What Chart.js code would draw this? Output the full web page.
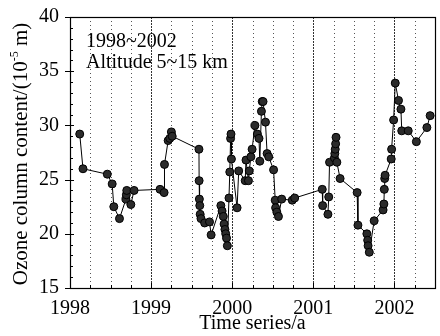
<!DOCTYPE html>
<html>
<head>
<meta charset="utf-8">
<script src="https://cdn.jsdelivr.net/npm/chart.js@4"></script>
<style>
  body { margin: 0; background: #fff; }
  #wrap { width: 440px; height: 336px; }
</style>
</head>
<body>
<div id="wrap"><canvas id="ozoneChart"></canvas></div>
<script>
// Sampling times (decimal years) and ozone column content (10^-5 m), altitude 5~15 km
const years = [
    1998.12, 1998.16, 1998.46, 1998.52, 1998.54, 1998.61, 1998.69, 1998.695, 1998.70, 1998.75, 1998.79,
    1999.11, 1999.16, 1999.165, 1999.21, 1999.23, 1999.25, 1999.26,
    1999.59, 1999.592, 1999.595, 1999.60, 1999.605, 1999.615, 1999.66, 1999.72, 1999.74,
    1999.86, 1999.875, 1999.89, 1999.90, 1999.91, 1999.92, 1999.93, 1999.94,
    1999.96, 1999.97, 1999.98, 1999.985, 1999.99,
    2000.06, 2000.08, 2000.16, 2000.17, 2000.20, 2000.21, 2000.23, 2000.245, 2000.28, 2000.31, 2000.33, 2000.34, 2000.36,
    2000.37, 2000.38, 2000.41, 2000.43, 2000.45, 2000.51, 2000.53, 2000.535, 2000.55, 2000.57, 2000.61, 2000.74, 2000.77,
    2001.11, 2001.115, 2001.18, 2001.19, 2001.20, 2001.26, 2001.265, 2001.27, 2001.275, 2001.28, 2001.29, 2001.33,
    2001.54, 2001.55, 2001.66, 2001.67, 2001.675, 2001.69, 2001.75,
    2001.86, 2001.87, 2001.875, 2001.88, 2001.885, 2001.96, 2001.965, 2001.99,
    2002.01, 2002.05, 2002.08, 2002.09, 2002.17, 2002.27, 2002.40, 2002.44
];
const ozone = [
    29.2, 26.0, 25.5, 24.6, 22.5, 21.4, 23.2, 23.6, 24.0, 22.7, 24.0,
    24.1, 23.8, 26.4, 28.6, 28.8, 29.4, 29.0,
    27.8, 24.9, 23.2, 22.6, 21.8, 21.4, 21.0, 21.1, 19.9,
    22.6, 22.1, 21.6, 20.9, 20.4, 20.0, 19.6, 18.9,
    23.3, 25.7, 28.8, 29.2, 26.9,
    22.4, 25.8, 24.9, 26.8, 24.9, 25.8, 27.1, 27.8, 30.0, 29.2, 28.8, 26.7, 31.3,
    32.2, 32.2, 30.3, 27.4, 27.1, 25.9, 23.1, 22.4, 22.0, 21.6, 23.2, 23.1, 23.3,
    24.1, 22.6, 21.8, 23.4, 26.6, 27.0, 27.4, 27.8, 28.3, 28.9, 26.6, 25.1,
    23.8, 20.8, 20.0, 19.4, 18.9, 18.3, 21.2,
    22.2, 22.75, 24.1, 25.1, 25.4, 26.9, 27.8, 30.5,
    33.9, 32.3, 31.5, 29.5, 29.5, 28.5, 29.8, 30.9
];
const yearTicks = [1998, 1999, 2000, 2001, 2002];
const noteLines = ['1998~2002', 'Altitude 5~15 km'];

const serif = "'Liberation Serif', 'Times New Roman', serif";
Chart.defaults.font.family = serif;
Chart.defaults.font.size = 20;
Chart.defaults.color = '#000';

// dotted quarter-year lines, frame, minor ticks and the text labels
const decorations = {
    id: 'decorations',
    beforeDatasetsDraw(chart) {
        const { ctx, chartArea: a, scales: { x } } = chart;
        ctx.save();
        ctx.lineWidth = 1;
        for (let q = 1; q < 18; q++) {
            const t = 1998 + q * 0.25;
            const px = Math.round(x.getPixelForValue(t)) + 0.5;
            const isYear = q % 4 === 0;
            ctx.strokeStyle = isYear ? '#333' : '#555';
            ctx.setLineDash(isYear ? [2, 1] : [1, 3]);
            ctx.beginPath();
            ctx.moveTo(px, a.top);
            ctx.lineTo(px, a.bottom);
            ctx.stroke();
        }
        ctx.restore();
    },
    afterDraw(chart) {
        const { ctx, chartArea: a, scales: { x, y } } = chart;
        ctx.save();
        ctx.strokeStyle = '#000';
        ctx.lineWidth = 1.2;
        ctx.strokeRect(a.left + 0.5, a.top + 0.5, a.right - a.left, a.bottom - a.top);

        // y ticks: majors cross the axis, minors inward
        ctx.lineWidth = 1;
        for (let v = 15; v <= 40; v++) {
            const py = Math.round(y.getPixelForValue(v)) + 0.5;
            ctx.beginPath();
            if (v % 5 === 0) {
                ctx.moveTo(a.left - 5, py);
                ctx.lineTo(a.left + 4, py);
            } else {
                ctx.moveTo(a.left, py);
                ctx.lineTo(a.left + 3, py);
            }
            ctx.stroke();
        }
        // x ticks
        for (let q = 0; q <= 18; q++) {
            const px = Math.round(x.getPixelForValue(1998 + q * 0.25)) + 0.5;
            const len = q % 4 === 0 ? 5 : 3;
            ctx.beginPath();
            ctx.moveTo(px, a.bottom);
            ctx.lineTo(px, a.bottom - len);
            ctx.stroke();
        }

        // note in the upper left corner
        ctx.fillStyle = '#000';
        ctx.font = '20px ' + serif;
        ctx.textAlign = 'left';
        ctx.textBaseline = 'alphabetic';
        ctx.fillText(noteLines[0], 86, 47);
        ctx.fillText(noteLines[1], 86, 68);

        // y axis title with superscript exponent
        ctx.translate(27, 154);
        ctx.rotate(-Math.PI / 2);
        const parts = [
            { text: 'Ozone column content/(10', size: 21, dy: 0 },
            { text: '-5', size: 12, dy: -9 },
            { text: ' m)', size: 21, dy: 0 }
        ];
        let total = 0;
        parts.forEach(p => {
            ctx.font = p.size + 'px ' + serif;
            p.w = ctx.measureText(p.text).width;
            total += p.w;
        });
        let cx = -total / 2;
        parts.forEach(p => {
            ctx.font = p.size + 'px ' + serif;
            ctx.fillText(p.text, cx, p.dy);
            cx += p.w;
        });
        ctx.restore();
    }
};

const ctx = document.getElementById('ozoneChart').getContext('2d');
new Chart(ctx, {
    type: 'line',
    data: {
        datasets: [{
            data: years.map((t, i) => ({ x: t, y: ozone[i] })),
            borderColor: '#000',
            borderWidth: 1,
            pointRadius: 4,
            pointBackgroundColor: '#2b2b2b',
            pointBorderColor: '#000',
            pointBorderWidth: 1,
            tension: 0,
            fill: false
        }]
    },
    options: {
        responsive: true,
        maintainAspectRatio: false,
        animation: false,
        layout: { padding: { top: 17, right: 0, left: 0, bottom: 0 } },
        plugins: {
            legend: { display: false },
            tooltip: { enabled: false }
        },
        scales: {
            x: {
                type: 'linear',
                min: 1998,
                max: 2002.5,
                afterBuildTicks: scale => {
                    scale.ticks = yearTicks.map(v => ({ value: v }));
                },
                afterFit: scale => { scale.height = 48; },
                ticks: {
                    padding: 1,
                    maxRotation: 0,
                    autoSkip: false,
                    callback: v => String(v)
                },
                grid: { display: false },
                border: { display: false },
                title: {
                    display: true,
                    text: 'Time series/a',
                    padding: { top: 0, bottom: 0 }
                }
            },
            y: {
                min: 15,
                max: 40,
                afterFit: scale => { scale.width = 70; },
                ticks: { stepSize: 5, padding: 3 },
                grid: { display: false },
                border: { display: false }
            }
        }
    },
    plugins: [decorations]
});
</script>
</body>
</html>
